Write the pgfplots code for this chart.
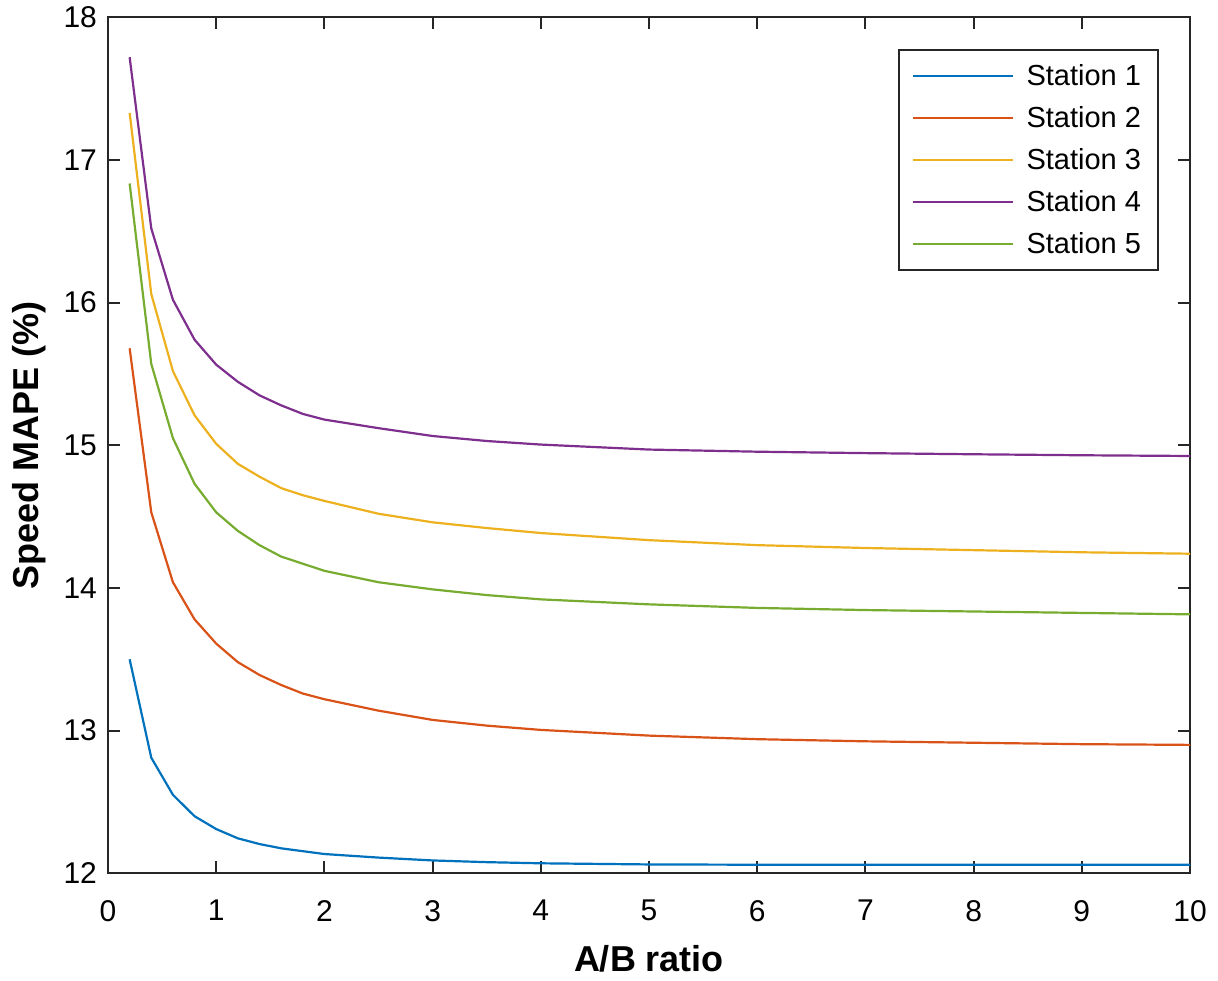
\documentclass[border=0pt]{standalone}
\usepackage{pgfplots}
\pgfplotsset{compat=1.18}
\usepackage{fontspec}
\setmainfont{Liberation Sans}
\definecolor{c1}{rgb}{0,0.447,0.741}
\definecolor{c2}{rgb}{0.85,0.325,0.098}
\definecolor{c3}{rgb}{0.929,0.694,0.125}
\definecolor{c4}{rgb}{0.494,0.184,0.556}
\definecolor{c5}{rgb}{0.466,0.674,0.188}
\definecolor{axc}{rgb}{0.15,0.15,0.15}
\begin{document}
\begin{tikzpicture}
\begin{axis}[
  width=541pt, height=428pt, scale only axis,
  xmin=0, xmax=10, ymin=12, ymax=18,
  xtick={0,1,...,10}, ytick={12,13,...,18},
  tick align=inside, major tick length=6pt,
  axis line style={axc, line width=1pt},
  every tick/.style={axc, line width=1pt},
  /pgf/number format/assume math mode=true,
  tick label style={font=\fontsize{15}{18}\selectfont, text=black},
  xticklabel style={yshift=-10pt},
  yticklabel style={xshift=-2pt},
  xlabel={\textbf{A/B ratio}},
  ylabel={\textbf{Speed MAPE (\%)}},
  label style={font=\fontsize{18}{21}\selectfont},
  xlabel style={yshift=-5pt},
  ylabel style={yshift=2pt},
  legend style={at={(1,1)}, anchor=north east, xshift=-15.5pt, yshift=-16pt,
    draw=axc, line width=1pt, font=\fontsize{14.5}{17}\selectfont,
    inner xsep=6.5pt, inner ysep=5pt,
    row sep=5pt},
  legend cell align=left,
  legend image code/.code={\draw[#1, line width=1.1pt] (0pt,0pt) -- (50pt,0pt);},
  every axis plot/.append style={line width=1.1pt},
]
\addplot[c1] coordinates {
(0.2,13.50) (0.4,12.81) (0.6,12.55) (0.8,12.40) (1.0,12.31) (1.2,12.245) (1.4,12.205) (1.6,12.175) (1.8,12.155) (2.0,12.135) (2.5,12.11) (3.0,12.09) (3.5,12.078) (4,12.07) (5,12.062) (6,12.06) (7,12.06) (8,12.06) (9,12.06) (10,12.06)};
\addlegendentry{\hspace{4pt}Station 1}
\addplot[c2] coordinates {
(0.2,15.68) (0.4,14.53) (0.6,14.04) (0.8,13.78) (1.0,13.61) (1.2,13.48) (1.4,13.39) (1.6,13.32) (1.8,13.26) (2.0,13.22) (2.5,13.14) (3.0,13.075) (3.5,13.035) (4,13.005) (5,12.965) (6,12.94) (7,12.925) (8,12.915) (9,12.905) (10,12.90)};
\addlegendentry{\hspace{4pt}Station 2}
\addplot[c3] coordinates {
(0.2,17.33) (0.4,16.06) (0.6,15.52) (0.8,15.21) (1.0,15.01) (1.2,14.87) (1.4,14.78) (1.6,14.70) (1.8,14.65) (2.0,14.61) (2.5,14.52) (3.0,14.46) (3.5,14.42) (4,14.385) (5,14.335) (6,14.30) (7,14.28) (8,14.265) (9,14.25) (10,14.24)};
\addlegendentry{\hspace{4pt}Station 3}
\addplot[c4] coordinates {
(0.2,17.72) (0.4,16.52) (0.6,16.02) (0.8,15.74) (1.0,15.565) (1.2,15.445) (1.4,15.35) (1.6,15.28) (1.8,15.22) (2.0,15.18) (2.5,15.12) (3.0,15.065) (3.5,15.03) (4,15.005) (5,14.97) (6,14.955) (7,14.945) (8,14.937) (9,14.93) (10,14.925)};
\addlegendentry{\hspace{4pt}Station 4}
\addplot[c5] coordinates {
(0.2,16.835) (0.4,15.57) (0.6,15.05) (0.8,14.73) (1.0,14.53) (1.2,14.40) (1.4,14.30) (1.6,14.22) (1.8,14.17) (2.0,14.12) (2.5,14.04) (3.0,13.99) (3.5,13.95) (4,13.92) (5,13.885) (6,13.86) (7,13.845) (8,13.835) (9,13.825) (10,13.815)};
\addlegendentry{\hspace{4pt}Station 5}
\end{axis}
\path ([xshift=-54pt,yshift=-53.5pt]current axis.south west) rectangle ([xshift=14pt,yshift=7.5pt]current axis.north east);
\end{tikzpicture}
\end{document}
